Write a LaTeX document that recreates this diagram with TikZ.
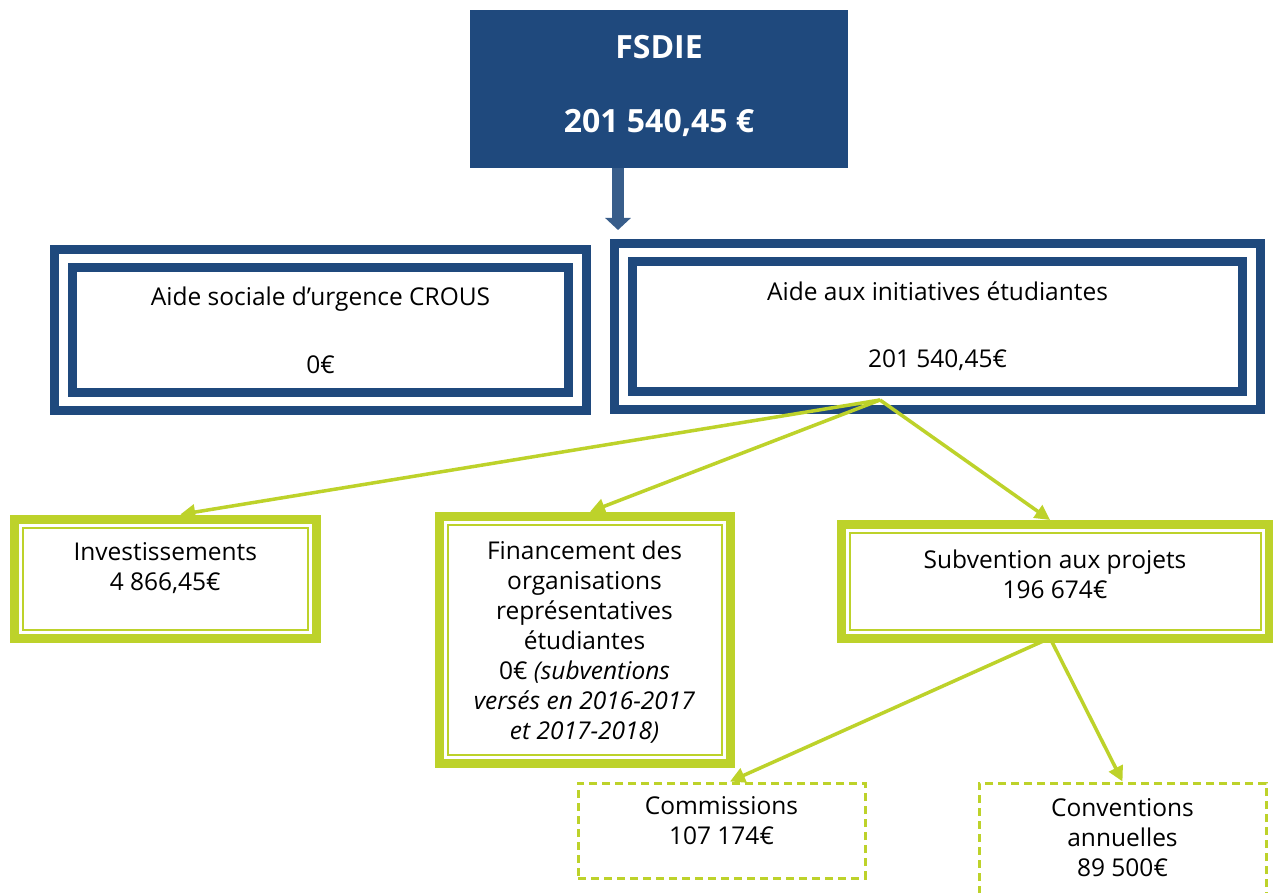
\documentclass[tikz,border=0pt]{standalone}
\usepackage{fontspec}
\setmainfont{Open Sans}
\usetikzlibrary{arrows.meta}
\definecolor{navy}{RGB}{31,73,125}
\definecolor{arrowblue}{RGB}{56,93,138}
\definecolor{lime}{RGB}{189,210,42}
\begin{document}
\begin{tikzpicture}[x=1pt,y=-1pt,
  bodyfont/.style={font=\fontsize{24.5}{30}\selectfont},
  bluebox/.style={draw=navy, line width=9pt, double=white, double distance=9pt, rectangle, inner sep=0pt, align=center, bodyfont},
  greenbox/.style={draw=lime, line width=9pt, rectangle, inner sep=0pt},
  dashbox/.style={draw=lime, line width=3pt, dash pattern=on 8pt off 5pt, rectangle, inner sep=0pt},
  boxtext/.style={bodyfont, align=center},
  greenarrow/.style={draw=lime, line width=3.5pt, -{Triangle[length=15pt,width=15pt]}},
  innerline/.style={draw=lime, line width=2pt}]
\useasboundingbox (0,0) rectangle (1273,893);
\fill[white] (0,0) rectangle (1273,893);

% top box
\node[fill=navy, minimum width=378pt, minimum height=158pt, inner sep=0pt,
  label={[name=fsdietext, align=center, text=white, font=\fontsize{32}{38}\selectfont\bfseries, yshift=3pt]center:FSDIE\\[36pt]201 540,45 €}] (fsdie) at (659,89) {};
\coordinate (atip) at (618,230);
\draw[arrowblue, line width=12pt, -{Triangle[length=12pt,width=25pt]}] (fsdie.south -| atip) -- (atip);

% blue double boxes
\node[bluebox, minimum width=514pt, minimum height=143pt] (crous) at (320.5,330) {Aide sociale d’urgence CROUS\\[38pt]0€};
\node[bluebox, minimum width=628pt, minimum height=148pt] (aie) at (937.5,326.5) {Aide aux initiatives étudiantes\\[37pt]201 540,45€};

% green boxes
\node[greenbox, minimum width=301.5pt, minimum height=119pt,
  label={[name=invtext, boxtext, yshift=10pt]center:Investissements\\4 866,45€}] (inv) at (165.25,578.5) {};
\node[greenbox, minimum width=291pt, minimum height=247.5pt,
  label={[name=fintext, boxtext, yshift=-2.5pt]center:Financement des\\organisations\\représentatives\\étudiantes\\0€ \textit{(subventions}\\\textit{versés en 2016-2017}\\\textit{et 2017-2018)}}] (fin) at (584.5,640) {};
\node[greenbox, minimum width=428pt, minimum height=113.5pt,
  label={[name=subtext, boxtext, yshift=7pt]center:Subvention aux projets\\196 674€}] (sub) at (1055,581.25) {};
\foreach \b in {inv,fin,sub}
  \draw[innerline] ([shift={(13pt,-13pt)}]\b.north west) rectangle ([shift={(-13pt,13pt)}]\b.south east);

% dashed boxes
\node[dashbox, minimum width=287pt, minimum height=95pt,
  label={[name=comtext, boxtext, yshift=9.5pt]center:Commissions\\107 174€}] (com) at (721.5,830.5) {};
\node[dashbox, minimum width=287pt, minimum height=116pt,
  label={[name=convtext, boxtext, yshift=3pt]center:Conventions\\annuelles\\89 500€}] (conv) at (1122.5,841) {};

% green arrows
\coordinate (split) at (880,400);
\coordinate (subout) at (1050,638);
\draw[greenarrow] (split) -- ([xshift=15pt]inv.north);
\draw[greenarrow] (split) -- ([xshift=5.5pt]fin.north);
\draw[greenarrow] (split) -- ([xshift=-5pt]sub.north);
\draw[greenarrow] (subout) -- ([xshift=8.5pt]com.north);
\draw[greenarrow] (subout) -- (conv.north);
\end{tikzpicture}
\end{document}
